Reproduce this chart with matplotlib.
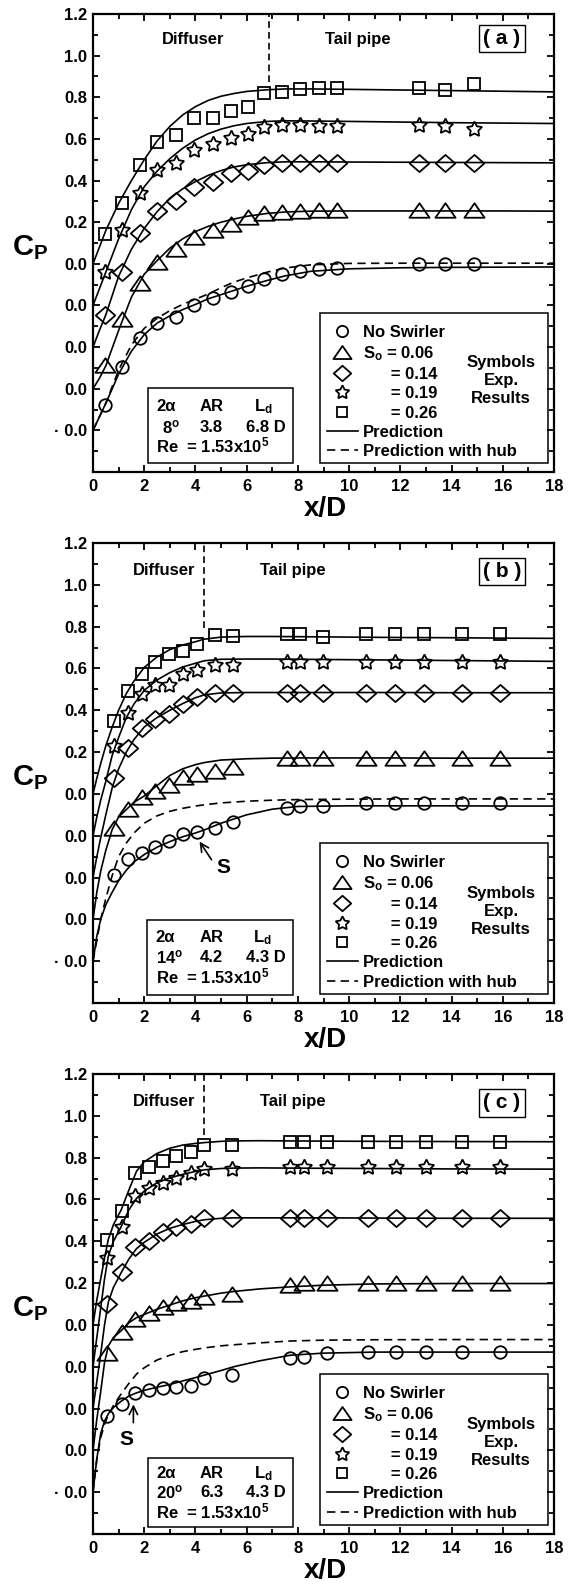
import matplotlib
matplotlib.use("Agg")
import matplotlib.pyplot as plt
from matplotlib.path import Path
from matplotlib.patches import Rectangle
from matplotlib.ticker import FixedLocator, MultipleLocator

plt.rcParams['font.family'] = ['Liberation Sans', 'DejaVu Sans']
plt.rcParams['font.weight'] = 'bold'
plt.rcParams['mathtext.fontset'] = 'custom'
plt.rcParams['mathtext.rm'] = 'Liberation Sans:bold'
plt.rcParams['mathtext.it'] = 'Liberation Sans:bold'
plt.rcParams['mathtext.bf'] = 'Liberation Sans:bold'
plt.rcParams['mathtext.default'] = 'rm'

# ---------------- data ----------------
PANEL_TAGS = ['( a )', '( b )', '( c )']
DIV_ANGLE = ['8', '14', '20']
AREA_RATIO = ['3.8', '4.2', '6.3']
DIFF_LENGTH = ['6.8', '4.3', '4.3']
DIFFUSER_END = [6.86, 4.34, 4.34]
SERIES_LABELS = ['No Swirler', '$S_o$ = 0.06', '      = 0.14', '      = 0.19', '      = 0.26']
LINE_LABELS = ['Prediction', 'Prediction with hub']
X_TICKS = [0, 2, 4, 6, 8, 10, 12, 14, 16, 18]
Y_TICKS = [-0.8, -0.6, -0.4, -0.2, 0.0, 0.2, 0.4, 0.6, 0.8, 1.0, 1.2]
Y_TICK_LABELS = ['\u00b7 0.0', '0.0', '0.0', '0.0', '0.0', '0.2', '0.4', '0.6', '0.8', '1.0', '1.2']

# panel (a) experiments
A_X = [0.48, 1.15, 1.85, 2.5, 3.25, 3.95, 4.68, 5.37, 6.05, 6.68, 7.38, 8.1, 8.82, 9.53, 12.73, 13.73, 14.86]
A_CIRCLE = [-0.678, -0.494, -0.358, -0.286, -0.254, -0.198, -0.166, -0.134, -0.106, -0.074, -0.049, -0.033, -0.026, -0.022, -0.001, 0.0, 0.0]
A_TRIANGLE = [-0.486, -0.266, -0.094, 0.01, 0.07, 0.13, 0.163, 0.191, 0.224, 0.243, 0.25, 0.255, 0.258, 0.258, 0.258, 0.258, 0.258]
A_DIAMOND = [-0.246, -0.038, 0.147, 0.255, 0.302, 0.371, 0.395, 0.435, 0.447, 0.475, 0.483, 0.486, 0.486, 0.486, 0.486, 0.486, 0.486]
A_STAR = [-0.038, 0.163, 0.339, 0.451, 0.483, 0.547, 0.576, 0.603, 0.624, 0.659, 0.667, 0.665, 0.662, 0.662, 0.667, 0.662, 0.646]
A_SQUARE = [0.143, 0.29, 0.475, 0.587, 0.619, 0.699, 0.702, 0.734, 0.755, 0.819, 0.824, 0.838, 0.843, 0.843, 0.843, 0.835, 0.864]
# panel (a) predictions
A_GRID = [0, 0.25, 0.5, 1.0, 1.5, 2.0, 2.5, 3.0, 3.5, 4.0, 4.5, 5.0, 5.5, 6.0, 6.8, 7.5, 8.5, 10, 12, 14, 16, 18]
A_PRED_CIRCLE = [-0.8, -0.735, -0.67, -0.53, -0.42, -0.34, -0.285, -0.25, -0.22, -0.195, -0.168, -0.148, -0.128, -0.108, -0.08, -0.058, -0.036, -0.024, -0.019, -0.017, -0.016, -0.015]
A_PRED_TRIANGLE = [-0.6, -0.55, -0.49, -0.32, -0.16, -0.05, 0.015, 0.075, 0.12, 0.155, 0.18, 0.2, 0.215, 0.228, 0.242, 0.249, 0.253, 0.254, 0.254, 0.254, 0.254, 0.253]
A_PRED_DIAMOND = [-0.4, -0.32, -0.245, -0.06, 0.07, 0.17, 0.25, 0.315, 0.36, 0.395, 0.425, 0.448, 0.465, 0.476, 0.486, 0.49, 0.49, 0.489, 0.488, 0.487, 0.486, 0.485]
A_PRED_STAR = [-0.2, -0.12, -0.04, 0.12, 0.26, 0.37, 0.445, 0.505, 0.555, 0.595, 0.625, 0.647, 0.663, 0.674, 0.684, 0.687, 0.686, 0.684, 0.681, 0.678, 0.676, 0.674]
A_PRED_SQUARE = [0.0, 0.08, 0.16, 0.29, 0.4, 0.5, 0.59, 0.66, 0.715, 0.755, 0.785, 0.805, 0.818, 0.828, 0.836, 0.84, 0.84, 0.838, 0.835, 0.832, 0.829, 0.826]
A_PRED_HUB = [-0.8, -0.735, -0.67, -0.51, -0.39, -0.31, -0.262, -0.225, -0.195, -0.17, -0.145, -0.115, -0.088, -0.068, -0.04, -0.02, -0.005, 0.002, 0.003, 0.003, 0.003, 0.003]

# panel (b) experiments
B_X = [0.82, 1.37, 1.92, 2.43, 2.98, 3.51, 4.07, 4.75, 5.47, 7.58, 8.1, 8.99, 10.64, 11.79, 12.92, 14.42, 15.9]
B_CIRCLE = [-0.388, -0.313, -0.284, -0.252, -0.225, -0.193, -0.181, -0.162, -0.133, -0.069, -0.058, -0.058, -0.045, -0.045, -0.045, -0.045, -0.045]
B_TRIANGLE = [-0.164, -0.073, -0.013, 0.015, 0.045, 0.082, 0.095, 0.111, 0.13, 0.17, 0.17, 0.17, 0.17, 0.17, 0.17, 0.17, 0.17]
B_DIAMOND = [0.075, 0.218, 0.314, 0.357, 0.382, 0.429, 0.462, 0.484, 0.484, 0.482, 0.482, 0.482, 0.482, 0.482, 0.482, 0.482, 0.482]
B_STAR = [0.229, 0.389, 0.478, 0.521, 0.521, 0.573, 0.593, 0.617, 0.617, 0.632, 0.632, 0.632, 0.632, 0.632, 0.632, 0.632, 0.632]
B_SQUARE = [0.349, 0.492, 0.572, 0.632, 0.668, 0.684, 0.717, 0.76, 0.755, 0.763, 0.763, 0.752, 0.763, 0.763, 0.763, 0.763, 0.763]
# panel (b) predictions
B_GRID = [0, 0.15, 0.3, 0.5, 0.75, 1.0, 1.3, 1.6, 2.0, 2.5, 3.0, 3.5, 4.0, 4.35, 5.0, 6.0, 7.0, 8.0, 10, 12, 14, 16, 18]
B_PRED_CIRCLE = [-0.8, -0.68, -0.6, -0.53, -0.47, -0.415, -0.365, -0.325, -0.29, -0.255, -0.228, -0.205, -0.187, -0.172, -0.14, -0.1, -0.073, -0.06, -0.057, -0.057, -0.057, -0.058, -0.058]
B_PRED_TRIANGLE = [-0.6, -0.47, -0.37, -0.27, -0.17, -0.11, -0.075, -0.04, -0.01, 0.04, 0.088, 0.12, 0.14, 0.15, 0.162, 0.168, 0.171, 0.172, 0.172, 0.172, 0.171, 0.171, 0.171]
B_PRED_DIAMOND = [-0.4, -0.3, -0.21, -0.1, 0.03, 0.12, 0.2, 0.26, 0.32, 0.365, 0.4, 0.432, 0.46, 0.474, 0.483, 0.485, 0.485, 0.485, 0.485, 0.485, 0.484, 0.484, 0.484]
B_PRED_STAR = [-0.2, -0.11, -0.03, 0.06, 0.185, 0.27, 0.365, 0.43, 0.495, 0.545, 0.58, 0.607, 0.625, 0.637, 0.644, 0.645, 0.645, 0.644, 0.642, 0.64, 0.638, 0.636, 0.634]
B_PRED_SQUARE = [0.0, 0.075, 0.145, 0.23, 0.32, 0.4, 0.48, 0.54, 0.605, 0.655, 0.69, 0.712, 0.728, 0.74, 0.75, 0.753, 0.753, 0.752, 0.75, 0.748, 0.747, 0.745, 0.744]
B_PRED_HUB = [-0.8, -0.7, -0.6, -0.5, -0.39, -0.3, -0.235, -0.187, -0.14, -0.105, -0.083, -0.069, -0.058, -0.052, -0.043, -0.035, -0.03, -0.027, -0.025, -0.024, -0.024, -0.024, -0.024]

# panel (c) experiments
C_X = [0.56, 1.12, 1.64, 2.2, 2.74, 3.26, 3.81, 4.34, 5.42, 7.71, 8.23, 9.14, 10.73, 11.82, 12.99, 14.42, 15.9]
C_CIRCLE = [-0.436, -0.378, -0.327, -0.311, -0.303, -0.295, -0.292, -0.255, -0.24, -0.157, -0.152, -0.136, -0.128, -0.128, -0.128, -0.128, -0.128]
C_TRIANGLE = [-0.136, -0.032, 0.03, 0.056, 0.084, 0.103, 0.116, 0.135, 0.148, 0.19, 0.2, 0.2, 0.2, 0.2, 0.2, 0.2, 0.2]
C_DIAMOND = [0.1, 0.255, 0.374, 0.403, 0.446, 0.47, 0.483, 0.51, 0.509, 0.51, 0.51, 0.51, 0.51, 0.51, 0.51, 0.51, 0.51]
C_STAR = [0.319, 0.47, 0.617, 0.653, 0.677, 0.701, 0.725, 0.744, 0.744, 0.754, 0.754, 0.754, 0.754, 0.754, 0.754, 0.754, 0.754]
C_SQUARE = [0.406, 0.546, 0.725, 0.754, 0.784, 0.808, 0.828, 0.86, 0.86, 0.876, 0.876, 0.876, 0.876, 0.876, 0.876, 0.876, 0.876]
# panel (c) predictions
C_GRID = [0, 0.15, 0.3, 0.45, 0.6, 0.8, 1.1, 1.4, 1.7, 2.0, 2.5, 3.0, 3.5, 4.0, 4.35, 5.0, 5.5, 6.5, 7.7, 9.0, 11, 14, 18]
C_PRED_CIRCLE = [-0.8, -0.64, -0.52, -0.46, -0.425, -0.395, -0.365, -0.34, -0.325, -0.313, -0.298, -0.285, -0.268, -0.252, -0.24, -0.218, -0.2, -0.172, -0.145, -0.135, -0.13, -0.13, -0.13]
C_PRED_TRIANGLE = [-0.6, -0.45, -0.32, -0.18, -0.1, -0.06, -0.028, 0.01, 0.035, 0.05, 0.075, 0.095, 0.115, 0.13, 0.138, 0.152, 0.16, 0.172, 0.182, 0.19, 0.196, 0.198, 0.198]
C_PRED_DIAMOND = [-0.4, -0.27, -0.14, 0.0, 0.11, 0.18, 0.25, 0.315, 0.365, 0.395, 0.435, 0.462, 0.48, 0.495, 0.503, 0.51, 0.512, 0.512, 0.512, 0.512, 0.511, 0.51, 0.51]
C_PRED_STAR = [-0.2, -0.06, 0.08, 0.22, 0.33, 0.4, 0.47, 0.55, 0.605, 0.64, 0.68, 0.703, 0.72, 0.734, 0.742, 0.748, 0.75, 0.751, 0.75, 0.749, 0.748, 0.746, 0.745]
C_PRED_SQUARE = [0.0, 0.12, 0.22, 0.32, 0.41, 0.48, 0.55, 0.645, 0.735, 0.78, 0.82, 0.845, 0.86, 0.868, 0.872, 0.878, 0.88, 0.881, 0.88, 0.879, 0.878, 0.877, 0.876]
C_PRED_HUB = [-0.8, -0.64, -0.54, -0.475, -0.43, -0.385, -0.33, -0.28, -0.235, -0.205, -0.168, -0.145, -0.128, -0.117, -0.11, -0.1, -0.095, -0.086, -0.077, -0.073, -0.071, -0.07, -0.07]

# separation point annotations (panels b and c)
SEP_POINT = [None, (4.16, -0.228), (1.58, -0.38)]
SEP_TEXT = [None, (5.1, -0.352), (1.3, -0.546)]
SEP_RELPOS = [None, (0.0, 0.5), (1.0, 1.0)]

# ---------------- layout ----------------
AX_RECTS = [[0.16146, 0.70202, 0.80035, 0.28914],
            [0.16146, 0.36679, 0.80035, 0.29040],
            [0.16146, 0.031566, 0.80035, 0.29040]]
VLINE_YMIN = [0.852, 0.815, 0.867]
DIFF_TXT_X = [0.217, 0.154, 0.154]
TAIL_TXT_X = [0.575, 0.434, 0.434]
HEAD_TXT_Y = [0.945, 0.941, 0.94]
TAG_Y = [0.947, 0.938, 0.937]
INFO_BOX = [(0.119, 0.0197, 0.315, 0.1637), (0.118, 0.0174, 0.316, 0.163), (0.119, 0.016, 0.315, 0.149)]
INFO_ROWS = [(0.142, 0.098, 0.057), (0.142, 0.100, 0.057), (0.132, 0.091, 0.049)]

tri_marker = Path([(0, 0.72), (-1, -0.72), (1, -0.72), (0, 0.72)],
                  [Path.MOVETO, Path.LINETO, Path.LINETO, Path.CLOSEPOLY])
dia_marker = Path([(0, 0.88), (1, 0), (0, -0.88), (-1, 0), (0, 0.88)],
                  [Path.MOVETO, Path.LINETO, Path.LINETO, Path.LINETO, Path.CLOSEPOLY])

MARKERS = [('o', 9.0), (tri_marker, 14.5), (dia_marker, 14.0), ((5, 1, 0), 11.5), ('s', 8.5)]

panels = [
    (A_X, [A_CIRCLE, A_TRIANGLE, A_DIAMOND, A_STAR, A_SQUARE], A_GRID,
     [A_PRED_CIRCLE, A_PRED_TRIANGLE, A_PRED_DIAMOND, A_PRED_STAR, A_PRED_SQUARE], A_PRED_HUB),
    (B_X, [B_CIRCLE, B_TRIANGLE, B_DIAMOND, B_STAR, B_SQUARE], B_GRID,
     [B_PRED_CIRCLE, B_PRED_TRIANGLE, B_PRED_DIAMOND, B_PRED_STAR, B_PRED_SQUARE], B_PRED_HUB),
    (C_X, [C_CIRCLE, C_TRIANGLE, C_DIAMOND, C_STAR, C_SQUARE], C_GRID,
     [C_PRED_CIRCLE, C_PRED_TRIANGLE, C_PRED_DIAMOND, C_PRED_STAR, C_PRED_SQUARE], C_PRED_HUB),
]

fig = plt.figure(figsize=(5.76, 15.84), dpi=100)
fig.patch.set_facecolor('white')

FS = 12

for i, (xs, ys_list, grid, preds, hub) in enumerate(panels):
    ax = fig.add_axes(AX_RECTS[i])
    ax.set_xlim(0, 18)
    ax.set_ylim(-1.0, 1.2)

    # prediction curves
    pred_line = None
    for yp in preds:
        pred_line, = ax.plot(grid, yp, color='black', lw=1.2, zorder=2)
    hub_line, = ax.plot(grid, hub, color='black', lw=1.2, ls=(0, (5, 3.2)), zorder=2)

    # experimental symbols
    handles = []
    for (mk, ms), ys in zip(MARKERS, ys_list):
        h, = ax.plot(xs, ys, ls='none', marker=mk, ms=ms, mfc='none', mec='black',
                     mew=1.3, zorder=3)
        handles.append(h)

    # diffuser exit line
    ax.axvline(DIFFUSER_END[i], ymin=VLINE_YMIN[i], ymax=1, color='black', lw=1.2,
               ls=(0, (4, 2.5)), zorder=2)

    # ticks
    ax.xaxis.set_major_locator(FixedLocator(X_TICKS))
    ax.xaxis.set_minor_locator(MultipleLocator(1))
    ax.yaxis.set_major_locator(FixedLocator(Y_TICKS))
    ax.yaxis.set_minor_locator(MultipleLocator(0.1))
    ax.set_yticklabels(Y_TICK_LABELS)
    ax.set_xticklabels([str(t) for t in X_TICKS])
    ax.tick_params(which='both', direction='in', top=True, right=True, width=1.3)
    ax.tick_params(which='major', length=5)
    ax.tick_params(which='minor', length=3.5)
    ax.tick_params(axis='y', labelsize=FS, pad=4)
    ax.tick_params(axis='x', labelsize=FS, pad=5)
    for lab in ax.get_xticklabels() + ax.get_yticklabels():
        lab.set_fontweight('bold')
    for sp in ax.spines.values():
        sp.set_linewidth(1.6)

    # headers
    ax.text(DIFF_TXT_X[i], HEAD_TXT_Y[i], 'Diffuser', transform=ax.transAxes,
            ha='center', va='center', fontsize=FS)
    ax.text(TAIL_TXT_X[i], HEAD_TXT_Y[i], 'Tail pipe', transform=ax.transAxes,
            ha='center', va='center', fontsize=FS)
    ax.text(0.887, TAG_Y[i], PANEL_TAGS[i], transform=ax.transAxes, ha='center',
            va='center', fontsize=15,
            bbox=dict(boxstyle='square,pad=0.2', fc='white', ec='black', lw=1.0))

    # geometry info box
    bx, by, bw, bh = INFO_BOX[i]
    ax.add_patch(Rectangle((bx, by), bw, bh, transform=ax.transAxes, fill=False,
                           ec='black', lw=1.1, zorder=4))
    r1, r2, r3 = INFO_ROWS[i]
    c1 = bx + 0.018
    ax.text(c1, r1, '2\u03b1', transform=ax.transAxes, ha='left', va='center', fontsize=FS)
    ax.text(c1 + 0.095, r1, 'AR', transform=ax.transAxes, ha='left', va='center', fontsize=FS)
    ax.text(c1 + 0.212, r1, '$L_d$', transform=ax.transAxes, ha='left', va='center', fontsize=FS)
    ax.text(c1 + (0.012 if len(DIV_ANGLE[i]) == 1 else 0.0), r2, '$' + DIV_ANGLE[i] + '^o$',
            transform=ax.transAxes, ha='left', va='center', fontsize=FS)
    ax.text(c1 + 0.095, r2, AREA_RATIO[i], transform=ax.transAxes, ha='left', va='center', fontsize=FS)
    ax.text(c1 + 0.195, r2, DIFF_LENGTH[i] + ' D', transform=ax.transAxes, ha='left',
            va='center', fontsize=FS)
    ax.text(c1, r3, 'Re  = 1.53x10$^5$', transform=ax.transAxes, ha='left', va='center',
            fontsize=FS)

    # legend
    ax.add_patch(Rectangle((0.4924, 0.0197), 0.4946, 0.3283, transform=ax.transAxes,
                           fill=False, ec='black', lw=1.1, zorder=4))
    leg = ax.legend(handles + [pred_line, hub_line], SERIES_LABELS + LINE_LABELS,
                    loc='upper left', bbox_to_anchor=(0.507, 0.322), frameon=False,
                    fontsize=FS, handlelength=1.85, handletextpad=0.3, labelspacing=0.26,
                    borderpad=0, borderaxespad=0, numpoints=1, markerscale=0.9)
    for t in leg.get_texts():
        t.set_fontweight('bold')
    ax.text(0.885, 0.199, 'Symbols\nExp.\nResults', transform=ax.transAxes, ha='center',
            va='center', fontsize=FS, linespacing=1.25, multialignment='center')

    # separation point
    if SEP_POINT[i] is not None:
        ax.annotate('S', xy=SEP_POINT[i], xytext=SEP_TEXT[i], ha='center', va='center',
                    fontsize=15,
                    arrowprops=dict(arrowstyle='->,head_length=0.4,head_width=0.2',
                                    color='black', lw=1.2, shrinkA=3, shrinkB=0,
                                    relpos=SEP_RELPOS[i]))

    # axis labels
    ax.text(0.505, -0.096, 'x/D', transform=ax.transAxes, ha='center', va='baseline',
            fontsize=20)
    ax.text(-0.175, 0.474, '$C_P$', transform=ax.transAxes, ha='left', va='baseline',
            fontsize=21)

fig.savefig('out.png', dpi=100, facecolor='white')
